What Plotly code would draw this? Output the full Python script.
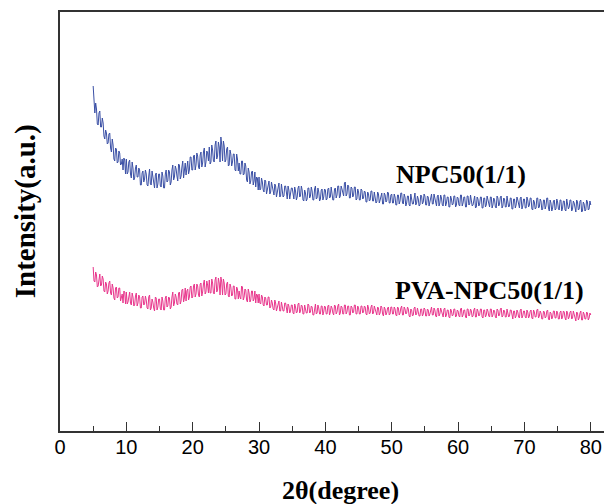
import plotly.graph_objects as go

# 2-theta sampling grids (degrees): main points every 0.25 deg, in-between points offset by 0.125 deg
theta_main = [5 + 0.25 * i for i in range(301)]
theta_mid = [5.125 + 0.25 * i for i in range(300)]

npc50_main = [
    345, 318, 322, 306, 320, 304, 308, 292, 298, 288, 298, 279, 286, 270, 282, 269, 278, 267, 261, 271,
    272, 259, 271, 253, 263, 253, 266, 254, 261, 246, 260, 252, 257, 245, 262, 246, 253, 243, 258, 247,
    257, 244, 255, 243, 261, 250, 259, 249, 266, 254, 262, 250, 266, 255, 270, 260, 256, 270, 261, 274,
    261, 276, 266, 275, 262, 279, 268, 283, 269, 278, 284, 269, 281, 269, 290, 275, 284, 294, 270, 285,
    271, 284, 266, 277, 269, 277, 260, 272, 268, 257, 270, 257, 265, 249, 259, 250, 260, 250, 244, 253,
    254, 242, 249, 239, 250, 242, 250, 239, 244, 236, 245, 238, 248, 235, 241, 235, 245, 232, 241, 236,
    243, 232, 240, 234, 245, 235, 241, 230, 238, 232, 243, 235, 240, 231, 245, 233, 239, 232, 242, 234,
    241, 232, 243, 234, 239, 231, 243, 236, 245, 235, 242, 235, 249, 237, 245, 233, 243, 236, 244, 232,
    239, 231, 241, 233, 239, 229, 237, 231, 240, 230, 235, 229, 237, 231, 238, 227, 236, 230, 238, 228,
    237, 228, 234, 226, 236, 230, 238, 227, 234, 228, 235, 225, 233, 227, 238, 228, 232, 226, 235, 229,
    235, 226, 234, 229, 237, 227, 233, 225, 236, 228, 233, 225, 236, 228, 234, 224, 232, 227, 235, 226,
    233, 225, 236, 228, 234, 224, 235, 227, 232, 226, 235, 224, 232, 227, 234, 223, 233, 226, 231, 224,
    234, 226, 231, 223, 233, 227, 235, 225, 232, 224, 230, 225, 233, 222, 232, 226, 231, 223, 234, 225,
    232, 223, 231, 226, 233, 221, 229, 223, 233, 224, 230, 222, 231, 225, 233, 220, 228, 223, 231, 222,
    229, 221, 231, 223, 230, 220, 228, 224, 231, 222, 228, 219, 229, 222, 231, 220, 227, 221, 229, 222,
    226,
]

npc50_mid = [
    323, 328, 307, 318, 304, 313, 295, 301, 287, 297, 283, 292, 272, 283, 268, 280, 266, 272, 273, 257,
    257, 269, 257, 269, 251, 263, 254, 263, 246, 258, 249, 261, 246, 255, 247, 260, 244, 256, 243, 257,
    245, 259, 243, 257, 249, 261, 246, 261, 251, 265, 255, 267, 252, 264, 253, 268, 268, 257, 274, 261,
    275, 261, 278, 264, 276, 264, 279, 264, 280, 270, 267, 286, 270, 286, 272, 289, 269, 286, 290, 269,
    282, 265, 281, 265, 277, 261, 277, 260, 257, 270, 256, 268, 251, 263, 247, 259, 246, 259, 254, 241,
    241, 253, 241, 251, 237, 248, 237, 249, 237, 247, 234, 244, 234, 247, 234, 245, 235, 245, 232, 243,
    233, 244, 231, 243, 234, 245, 231, 241, 230, 243, 233, 244, 231, 242, 232, 243, 230, 241, 231, 242,
    231, 242, 233, 244, 231, 242, 233, 245, 233, 245, 236, 248, 235, 246, 233, 244, 234, 244, 231, 242,
    231, 242, 232, 240, 229, 239, 230, 240, 230, 239, 228, 239, 228, 237, 227, 238, 229, 239, 228, 236,
    228, 237, 226, 236, 227, 238, 228, 237, 225, 235, 226, 237, 227, 236, 226, 235, 225, 236, 227, 237,
    226, 235, 225, 236, 227, 237, 226, 235, 225, 236, 226, 236, 225, 234, 224, 235, 226, 235, 224, 234,
    226, 236, 225, 234, 224, 235, 226, 236, 225, 234, 223, 234, 225, 234, 223, 233, 224, 235, 225, 234,
    223, 233, 224, 235, 225, 234, 223, 233, 224, 235, 224, 233, 222, 232, 223, 234, 224, 233, 222, 232,
    223, 234, 224, 233, 222, 231, 222, 233, 223, 232, 221, 231, 222, 233, 223, 231, 220, 230, 221, 232,
    222, 231, 220, 230, 221, 232, 222, 231, 220, 230, 220, 231, 221, 230, 219, 229, 220, 231, 221, 230,
]

pva_npc50_main = [
    164, 149, 156, 145, 157, 146, 152, 139, 147, 140, 150, 136, 143, 131, 144, 134, 143, 133, 128, 139,
    139, 129, 139, 126, 134, 126, 138, 128, 134, 123, 135, 127, 131, 122, 136, 123, 129, 120, 133, 124,
    132, 121, 130, 121, 135, 125, 133, 124, 139, 128, 134, 126, 139, 130, 142, 133, 130, 142, 134, 145,
    134, 147, 137, 145, 134, 148, 139, 151, 139, 146, 151, 138, 148, 137, 154, 141, 148, 154, 136, 148,
    137, 149, 134, 144, 136, 145, 132, 142, 140, 132, 144, 134, 141, 129, 138, 131, 140, 132, 128, 136,
    137, 127, 134, 125, 133, 126, 134, 124, 128, 121, 128, 123, 130, 120, 125, 120, 128, 118, 125, 120,
    126, 117, 124, 119, 128, 120, 125, 117, 123, 118, 126, 119, 124, 116, 127, 118, 123, 117, 125, 119,
    124, 117, 126, 119, 123, 116, 125, 119, 127, 118, 124, 117, 126, 119, 125, 116, 124, 119, 126, 117,
    123, 117, 125, 119, 124, 116, 123, 118, 126, 118, 121, 116, 123, 118, 124, 115, 122, 118, 124, 117,
    124, 117, 122, 115, 123, 118, 125, 116, 122, 118, 122, 114, 121, 116, 124, 117, 120, 115, 122, 117,
    122, 115, 121, 117, 124, 116, 121, 114, 123, 117, 120, 114, 123, 116, 121, 113, 120, 116, 122, 115,
    120, 114, 123, 116, 121, 113, 122, 116, 120, 115, 123, 114, 120, 116, 122, 113, 121, 116, 120, 114,
    122, 116, 120, 113, 121, 116, 123, 115, 120, 114, 119, 115, 121, 112, 120, 115, 119, 113, 122, 115,
    120, 113, 119, 115, 121, 112, 119, 114, 122, 115, 118, 112, 119, 114, 121, 111, 118, 114, 120, 113,
    118, 112, 120, 114, 119, 111, 118, 114, 120, 113, 117, 110, 118, 113, 120, 111, 117, 112, 118, 113,
    116,
]

pva_npc50_mid = [
    150, 159, 144, 155, 145, 155, 140, 149, 137, 148, 138, 147, 133, 143, 133, 143, 130, 137, 140, 127,
    127, 137, 128, 138, 125, 135, 125, 136, 123, 134, 126, 135, 123, 134, 121, 132, 123, 134, 121, 132,
    122, 134, 121, 133, 124, 134, 122, 134, 125, 137, 127, 138, 127, 141, 129, 143, 140, 131, 144, 133,
    145, 134, 147, 136, 147, 135, 147, 137, 150, 138, 138, 152, 138, 151, 139, 153, 136, 149, 152, 136,
    147, 135, 147, 135, 145, 132, 144, 132, 134, 145, 131, 142, 131, 142, 129, 140, 130, 140, 137, 128,
    128, 136, 126, 134, 126, 134, 123, 131, 122, 131, 120, 128, 120, 129, 120, 128, 119, 127, 118, 126,
    118, 127, 118, 127, 118, 126, 117, 126, 118, 127, 118, 125, 116, 125, 117, 126, 117, 125, 116, 125,
    117, 125, 116, 125, 118, 126, 117, 125, 116, 125, 117, 126, 117, 125, 116, 125, 118, 126, 117, 125,
    117, 125, 118, 125, 117, 126, 117, 124, 117, 125, 117, 124, 116, 125, 117, 124, 116, 123, 116, 124,
    117, 124, 116, 124, 116, 123, 116, 124, 117, 124, 115, 122, 115, 123, 116, 123, 115, 122, 115, 123,
    115, 122, 115, 123, 116, 123, 115, 122, 115, 123, 115, 122, 114, 121, 114, 122, 115, 122, 114, 121,
    115, 122, 114, 121, 114, 122, 115, 122, 114, 121, 114, 122, 115, 122, 114, 121, 114, 122, 115, 122,
    114, 121, 114, 122, 115, 122, 114, 121, 114, 122, 114, 121, 113, 120, 113, 121, 114, 121, 113, 120,
    114, 121, 113, 120, 113, 121, 114, 121, 113, 120, 112, 120, 113, 120, 112, 119, 112, 120, 113, 120,
    112, 119, 112, 120, 113, 120, 112, 119, 112, 120, 112, 119, 111, 118, 111, 119, 112, 119, 111, 118,
]

series_names = ["NPC50(1/1)", "PVA-NPC50(1/1)"]
series_colors = ["#3a4fa5", "#e8368c"]
label_pos = [(50.3, 257), (50.2, 141)]
x_ticks = [0, 10, 20, 30, 40, 50, 60, 70, 80]
x_title = "<b>2θ(degree)</b>"
y_title = "<b>Intensity(a.u.)</b>"


def interleave(main, mid):
    out = []
    for i in range(len(mid)):
        out.append(main[i])
        out.append(mid[i])
    out.append(main[-1])
    return out


two_theta = interleave(theta_main, theta_mid)
series = [interleave(npc50_main, npc50_mid), interleave(pva_npc50_main, pva_npc50_mid)]

fig = go.Figure()
for ys, name, col in zip(series, series_names, series_colors):
    fig.add_trace(go.Scatter(x=two_theta, y=ys, mode="lines", name=name,
                             line=dict(color=col, width=1), showlegend=False))

for (lx, ly), name in zip(label_pos, series_names):
    fig.add_annotation(x=lx, y=ly, text="<b>" + name + "</b>", showarrow=False,
                       xanchor="left", yanchor="middle",
                       font=dict(family="Liberation Serif", size=26, color="black"))

# axis titles placed as paper-anchored annotations
fig.add_annotation(xref="paper", yref="paper", x=0.509, y=-0.141, text=x_title,
                   showarrow=False, xanchor="center", yanchor="middle", borderpad=0,
                   font=dict(family="Liberation Serif", size=26, color="black"))
fig.add_annotation(xref="paper", yref="paper", x=-0.063, y=0.525, text=y_title,
                   showarrow=False, xanchor="center", yanchor="middle", textangle=-90,
                   font=dict(family="Liberation Serif", size=29, color="black"))

# the page body has an 8px margin, so the figure is made 8px smaller each way
fig.update_layout(
    width=604, height=496,
    margin=dict(l=52, r=0, t=4, b=73),
    paper_bgcolor="white", plot_bgcolor="white",
)
fig.update_xaxes(
    range=[0, 83.2], tickvals=x_ticks, ticks="inside", ticklen=9, tickwidth=1.2,
    tickcolor="#333", showline=True, linecolor="#333", linewidth=1.5, mirror=True,
    showgrid=False, zeroline=False, automargin=False, ticklabelstandoff=-3,
    minor=dict(dtick=5, tick0=0, ticks="inside", ticklen=5, tickcolor="#333", tickwidth=1.2),
    tickfont=dict(family="Liberation Sans", size=20, color="black"),
)
fig.update_yaxes(
    range=[0, 419], showticklabels=False, ticks="", showline=True, linecolor="#333",
    linewidth=1.5, showgrid=False, zeroline=False, automargin=False,
)

fig.write_html("out.html")
